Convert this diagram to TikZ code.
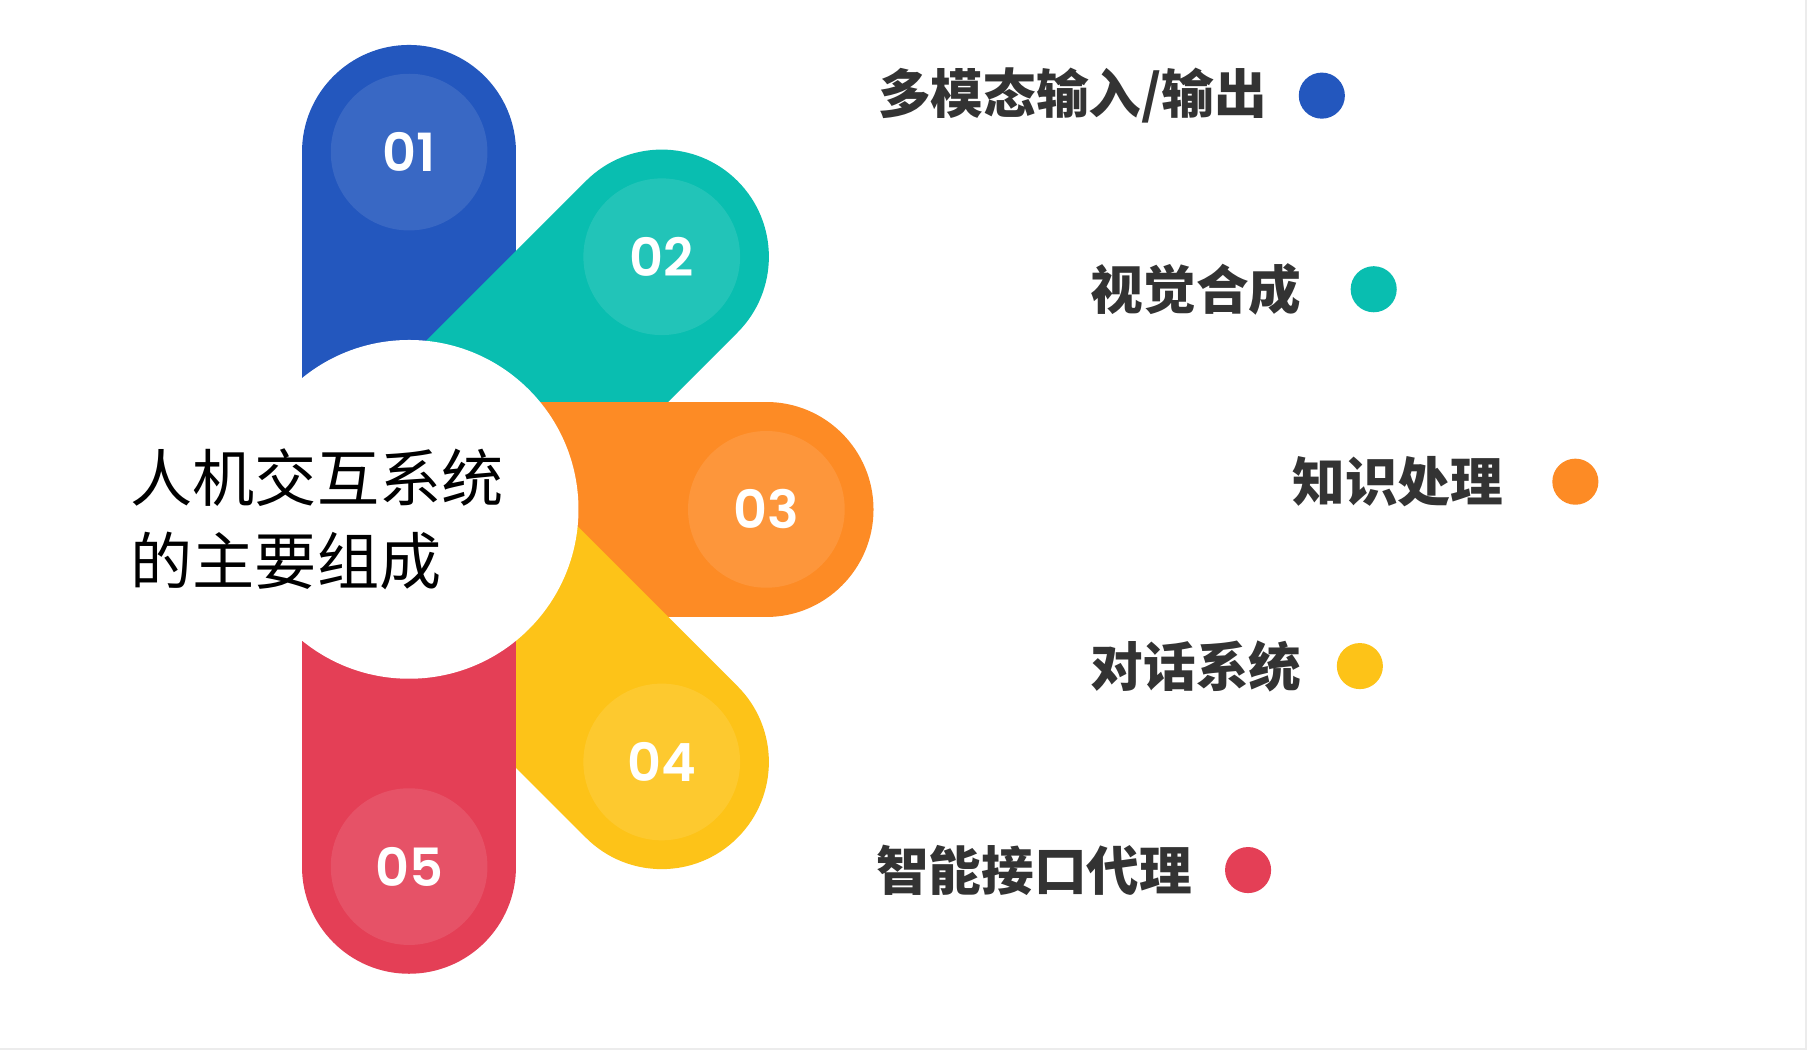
\documentclass[tikz,border=0pt]{standalone}
\usepackage{fontspec}
\newfontfamily\cjkfont{Noto Sans CJK SC}
\newfontfamily\numfont{Poppins SemiBold}
\definecolor{partblue}{RGB}{35,87,190}
\definecolor{partteal}{RGB}{9,190,176}
\definecolor{partorange}{RGB}{253,139,37}
\definecolor{partyellow}{RGB}{253,195,24}
\definecolor{partred}{RGB}{228,63,86}
\definecolor{labelgray}{RGB}{51,51,51}
\definecolor{edgegray}{RGB}{236,236,236}
\usetikzlibrary{positioning}

\begin{document}
\begin{tikzpicture}[x=0.02cm, y=0.02cm,
    petal/.style={line width=3.72cm, line cap=round},
    badge/.style={circle, fill=white, fill opacity=0.1, text opacity=1, text=white, minimum size=2.72cm, inner sep=0pt, font=\numfont\fontsize{26}{30}\selectfont},
    bullet/.style={circle, inner sep=0pt, minimum size=0.8cm},
    partlabel/.style={inner sep=0pt, text=labelgray, font=\cjkfont\bfseries\fontsize{26}{30}\selectfont}]
    \fill[edgegray] (0,0) rectangle (1568,911);
    \fill[white] (0,2) rectangle (1566,911);

    \coordinate (hub) at (355,469);
    \path (hub) ++(90:310) coordinate (e1);
    \path (hub) ++(45:310) coordinate (e2);
    \path (hub) ++(0:310) coordinate (e3);
    \path (hub) ++(-45:310) coordinate (e4);
    \path (hub) ++(-90:310) coordinate (e5);

    \draw[petal, partblue] (hub) -- (e1);
    \node[badge] (n1) at (e1) {01};
    \draw[petal, partteal] (hub) -- (e2);
    \node[badge] (n2) at (e2) {02};
    \draw[petal, partorange] (hub) -- (e3);
    \node[badge] (n3) at (e3) {03};
    \draw[petal, partyellow] (hub) -- (e4);
    \node[badge] (n4) at (e4) {04};
    \draw[petal, partred] (hub) -- (e5);
    \node[badge] (n5) at (e5) {05};

    \node[circle, fill=white, minimum size=5.88cm, inner sep=0pt] (core) at (hub) {};
    \node[anchor=west, align=left, inner sep=0pt, font=\cjkfont\fontsize{30.7}{41}\selectfont] (title) at (113,460) {人机交互系统\\的主要组成};

    \node[bullet, fill=partblue] (d1) at (1147,828) {};
    \node[partlabel, left=0.54cm of d1] (l1) {多模态输入/输出};
    \node[bullet, fill=partteal] (d2) at (1192,660) {};
    \node[partlabel, left=0.84cm of d2] (l2) {视觉合成};
    \node[bullet, fill=partorange] (d3) at (1367,493) {};
    \node[partlabel, left=0.84cm of d3] (l3) {知识处理};
    \node[bullet, fill=partyellow] (d4) at (1180,333) {};
    \node[partlabel, left=0.6cm of d4] (l4) {对话系统};
    \node[bullet, fill=partred] (d5) at (1083,156) {};
    \node[partlabel, left=0.56cm of d5] (l5) {智能接口代理};
\end{tikzpicture}
\end{document}
